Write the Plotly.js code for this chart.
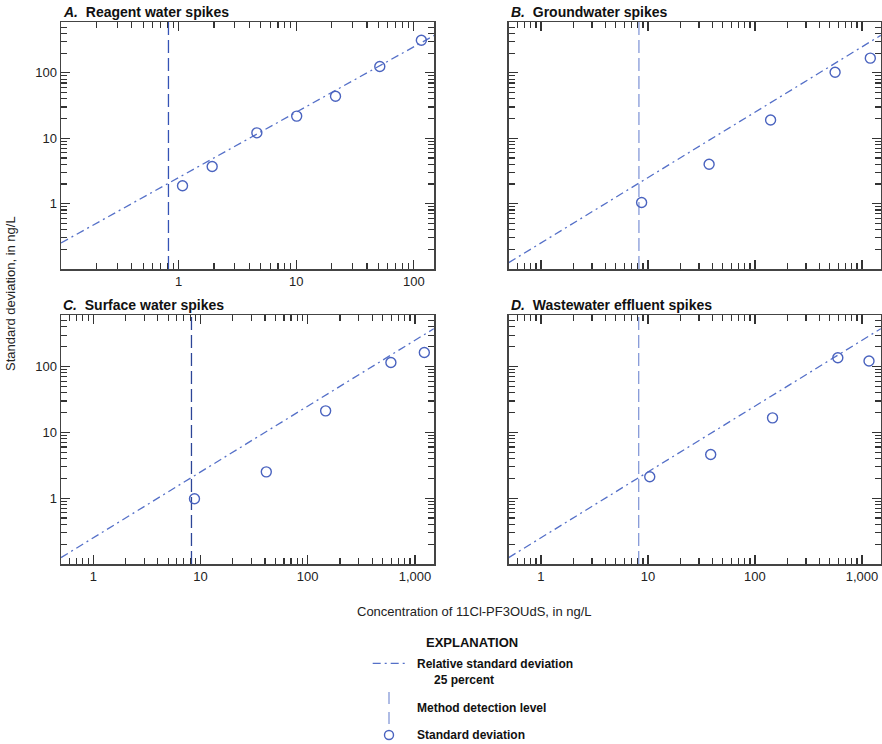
<!DOCTYPE html>
<html>
<head>
<meta charset="utf-8">
<script src="https://cdn.plot.ly/plotly-3.0.1.min.js"></script>
<style>
  html, body { margin: 0; padding: 0; background: #fff; }
  #chart { width: 882px; height: 744px; }
</style>
</head>
<body>
<div id="chart"></div>
<script>
// concentrations (ng/L) and standard deviations (ng/L) per spike matrix
var concA = [1.08, 1.93, 4.63, 10.1, 21.6, 51.4, 116];
var sdA   = [1.88, 3.7, 12.1, 21.8, 44, 125, 316];
var concB = [8.73, 37.3, 140, 561, 1197];
var sdB   = [1.04, 4.0, 19, 102, 168];
var concC = [8.79, 41.1, 147, 597, 1224];
var sdC   = [0.98, 2.51, 21.2, 115, 163];
var concD = [10.4, 38.6, 146, 595, 1164];
var sdD   = [2.11, 4.6, 16.6, 136, 121];

// method detection levels
var mdlA = 0.82, mdlB = 8.24, mdlC = 8.24, mdlD = 8.2;

// relative standard deviation (25 percent) lines, end points
var rsdAx = [0.1, 150],  rsdAy = [0.25, 375];
var rsdBx = [0.5, 1500], rsdBy = [0.125, 375];

var panelTitles = ['A.', 'B.', 'C.', 'D.'];
var panelNames = ['Reagent water spikes', 'Groundwater spikes', 'Surface water spikes', 'Wastewater effluent spikes'];

var tickVals = [1, 10, 100, 1000];
var tickText = ['1', '10', '100', '1,000'];

var FONT = 'Liberation Sans Narrow, Arial Narrow, Liberation Sans, sans-serif';
var W = 882, H = 744;
var cRsd = '#5570c8', cPt = '#4a63bf';
var mdlColors = ['#3553b5', '#8599d8', '#2c4597', '#8599d8'];

var minorVals = [];
for (var e = -2; e <= 3; e++) {
  for (var m = 2; m <= 9; m++) minorVals.push(m * Math.pow(10, e));
}

function px(x) { return x / W; }
function py(y) { return 1 - y / H; }

var traces = [];
var sets = [
  [concA, sdA, mdlA, rsdAx, rsdAy],
  [concB, sdB, mdlB, rsdBx, rsdBy],
  [concC, sdC, mdlC, rsdBx, rsdBy],
  [concD, sdD, mdlD, rsdBx, rsdBy]
];
sets.forEach(function (s, i) {
  var xa = i === 0 ? 'x' : 'x' + (i + 1);
  var ya = i === 0 ? 'y' : 'y' + (i + 1);
  traces.push({
    x: s[3], y: s[4], xaxis: xa, yaxis: ya, mode: 'lines', hoverinfo: 'skip',
    line: { color: cRsd, width: 1.3, dash: '8px,4px,2px,4px' }
  });
  traces.push({
    x: [s[2], s[2]], y: [0.1, 700], xaxis: xa, yaxis: ya, mode: 'lines', hoverinfo: 'skip',
    line: { color: mdlColors[i], width: 1.3, dash: '13px,5px' }
  });
  traces.push({
    x: s[0], y: s[1], xaxis: xa, yaxis: ya, mode: 'markers',
    marker: { symbol: 'circle-open', size: 10, color: cPt, line: { width: 1.4, color: cPt } }
  });
});

function axis(domain, range, labels, anchor) {
  return {
    type: 'log', domain: domain, range: range, anchor: anchor,
    showgrid: false, zeroline: false, showline: true, linecolor: '#444', linewidth: 1.5,
    mirror: 'allticks', ticks: 'inside', ticklen: 9, tickwidth: 1.2, tickcolor: '#333',
    tickmode: 'array', tickvals: tickVals, ticktext: tickText,
    showticklabels: labels,
    tickfont: { family: FONT, size: 13, color: '#222' },
    minor: { ticks: 'inside', ticklen: 6, tickwidth: 1.2, tickcolor: '#333',
             tickmode: 'array', tickvals: minorVals, showgrid: false }
  };
}

var xL = [px(61), px(434)], xR = [px(508.7), px(881)];
var yT = [py(269), py(22)], yB = [py(564), py(315.3)];
var yRange = [-1, 2.778];

var layout = {
  width: W, height: H,
  margin: { l: 0, r: 0, t: 0, b: 0 },
  paper_bgcolor: '#fff', plot_bgcolor: '#fff',
  showlegend: false,
  font: { family: FONT, color: '#222' },
  xaxis:  axis(xL, [-1, 2.172], true, 'y'),
  yaxis:  axis(yT, yRange, true, 'x'),
  xaxis2: axis(xR, [-0.301, 3.178], false, 'y2'),
  yaxis2: axis(yT, yRange, false, 'x2'),
  xaxis3: axis(xL, [-0.301, 3.178], true, 'y3'),
  yaxis3: axis(yB, yRange, true, 'x3'),
  xaxis4: axis(xR, [-0.301, 3.178], true, 'y4'),
  yaxis4: axis(yB, yRange, false, 'x4'),
  annotations: [],
  shapes: []
};

var titlePos = [[61, 12], [508.7, 12], [61, 305], [508.7, 305]];
panelTitles.forEach(function (t, i) {
  layout.annotations.push({
    xref: 'paper', yref: 'paper', x: px(titlePos[i][0]), y: py(titlePos[i][1]),
    xanchor: 'left', yanchor: 'middle', showarrow: false,
    text: '<b><i>' + t + '</i>  ' + panelNames[i] + '</b>',
    font: { family: FONT, size: 14, color: '#111' }
  });
});

layout.annotations.push({
  xref: 'paper', yref: 'paper', x: px(10), y: py(294), textangle: -90,
  xanchor: 'center', yanchor: 'middle', showarrow: false,
  text: 'Standard deviation, in ng/L', font: { family: FONT, size: 13, color: '#222' }
});
layout.annotations.push({
  xref: 'paper', yref: 'paper', x: px(474), y: py(611),
  xanchor: 'center', yanchor: 'middle', showarrow: false,
  text: 'Concentration of 11Cl-PF3OUdS, in ng/L', font: { family: FONT, size: 13, color: '#222' }
});

// explanation block
var legendText = [
  ['<b>EXPLANATION</b>', 471.7, 642, 'center', 13],
  ['<b>Relative standard deviation</b>', 415, 663.5, 'left', 12],
  ['<b>25 percent</b>', 431.5, 679.5, 'left', 12],
  ['<b>Method detection level</b>', 415, 708, 'left', 12],
  ['<b>Standard deviation</b>', 415, 735, 'left', 12]
];
legendText.forEach(function (l) {
  layout.annotations.push({
    xref: 'paper', yref: 'paper', x: px(l[1]), y: py(l[2]),
    xanchor: l[3], yanchor: 'middle', showarrow: false,
    text: l[0], font: { family: FONT, size: l[4], color: '#111' }
  });
});
layout.shapes.push({
  type: 'line', xref: 'paper', yref: 'paper',
  x0: px(372.7), x1: px(405), y0: py(663.3), y1: py(663.3),
  line: { color: cRsd, width: 1.3, dash: '8px,4px,2px,4px' }
});
layout.shapes.push({
  type: 'line', xref: 'paper', yref: 'paper',
  x0: px(389), x1: px(389), y0: py(692), y1: py(724),
  line: { color: '#8599d8', width: 1.3, dash: '12px,8px' }
});
layout.shapes.push({
  type: 'circle', xref: 'paper', yref: 'paper',
  xsizemode: 'pixel', ysizemode: 'pixel',
  xanchor: px(389), yanchor: py(735),
  x0: -4.5, x1: 4.5, y0: -4.5, y1: 4.5,
  line: { color: cPt, width: 1.4 }
});

Plotly.newPlot('chart', traces, layout, { staticPlot: true, displayModeBar: false });
</script>
</body>
</html>
